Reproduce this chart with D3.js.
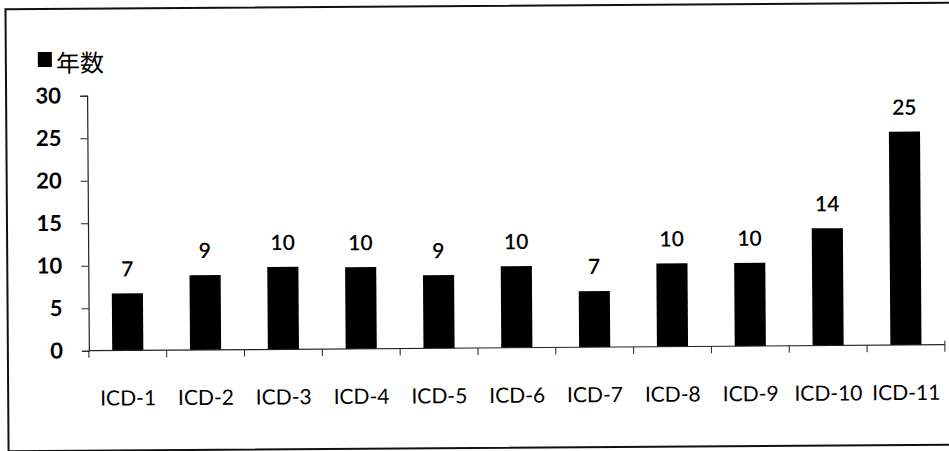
<!DOCTYPE html>
<html>
<head>
<meta charset="utf-8">
<script src="https://cdn.jsdelivr.net/npm/d3@7"></script>
<style>
  html, body { margin: 0; background: #fff; overflow: hidden; }
  svg { display: block; }
</style>
</head>
<body>
<div id="vis1" style="width:949px;height:451px"></div>
<script>
/*
Data
*/

const categories = ["ICD-1", "ICD-2", "ICD-3", "ICD-4", "ICD-5", "ICD-6",
                    "ICD-7", "ICD-8", "ICD-9", "ICD-10", "ICD-11"];
const years = [6.7, 8.8, 9.7, 9.6, 8.6, 9.6, 6.6, 9.8, 9.8, 13.8, 25.1];
const yTicks = [0, 5, 10, 15, 20, 25, 30];
const seriesName = "年数";

/*
Size constants
*/

const WIDTH = 949;
const HEIGHT = 451;
const margin = {top: 93, right: 5, bottom: 103, left: 88};
const width = WIDTH - margin.left - margin.right;
const height = 348 - margin.top;

const svg = d3.select("#vis1")
                .append("svg")
                .attr("width", WIDTH)
                .attr("height", HEIGHT);

// the scanned picture is a little tilted
const page = svg.append("g")
                .attr("transform", "rotate(-0.4, 475, 225)");

// frame of the chart area: left, top and bottom only, the right side runs off the picture
const frame = d3.path();
frame.moveTo(1000, 6);
frame.lineTo(7, 6);
frame.lineTo(7, 448);
frame.lineTo(1000, 448);
page.append("path")
    .attr("d", frame.toString())
    .attr("fill", "none")
    .attr("stroke", "#111")
    .attr("stroke-width", 2);

/*
Scales
*/

const x = d3.scaleBand()
            .domain(categories)
            .range([0, width])
            .paddingInner(0.6)
            .paddingOuter(0.3);

const y = d3.scaleLinear()
            .domain([0, 30])
            .range([height, 0]);

const chart = page.append("g")
                .attr("transform", `translate(${margin.left}, ${margin.top})`);

// legend
page.append("rect")
    .attr("x", 39)
    .attr("y", 49)
    .attr("width", 14)
    .attr("height", 15)
    .attr("fill", "#000");

page.append("text")
    .attr("x", 57)
    .attr("y", 69)
    .attr("font-family", "'Noto Sans CJK JP', sans-serif")
    .attr("font-size", 24)
    .text(seriesName);

// y axis
const yAxis = chart.append("g")
                .call(d3.axisLeft(y).tickValues(yTicks).tickSize(7).tickPadding(19));
yAxis.select(".domain").attr("stroke", "#222").attr("stroke-width", 1.2);
yAxis.selectAll(".tick line").attr("stroke", "#222");
yAxis.selectAll("text")
    .attr("font-family", "Lato, sans-serif")
    .attr("font-size", 22)
    .attr("font-weight", "bold")
    .attr("fill", "#000");

// bars
chart.selectAll("rect.bar")
    .data(years)
    .enter()
    .append("rect")
    .attr("class", "bar")
    .attr("x", (d, i) => x(categories[i]))
    .attr("y", d => y(d))
    .attr("width", x.bandwidth())
    .attr("height", d => y(0) - y(d))
    .attr("fill", "#000");

// value labels
chart.selectAll("text.value")
    .data(years)
    .enter()
    .append("text")
    .attr("class", "value")
    .attr("x", (d, i) => x(categories[i]) + x.bandwidth() / 2)
    .attr("y", d => y(d) - 17)
    .attr("text-anchor", "middle")
    .attr("font-family", "Lato, sans-serif")
    .attr("font-size", 21)
    .attr("font-weight", 600)
    .attr("fill", "#000")
    .text(d => d3.format(".0f")(d));

// x axis with ticks between the categories
const step = x.step();
const edges = d3.range(categories.length + 1).map(i => x(categories[0]) - x.paddingInner() * step / 2 + i * step);

const xAxis = chart.append("g")
                .attr("transform", `translate(0, ${height})`);

xAxis.append("line")
    .attr("x1", 0)
    .attr("x2", width)
    .attr("stroke", "#222")
    .attr("stroke-width", 1.2);

xAxis.selectAll("line.tick")
    .data(edges)
    .enter()
    .append("line")
    .attr("class", "tick")
    .attr("x1", d => d)
    .attr("x2", d => d)
    .attr("y1", (d, i) => i === edges.length - 1 ? -4 : 0)
    .attr("y2", 7)
    .attr("stroke", "#222");

xAxis.selectAll("text")
    .data(categories)
    .enter()
    .append("text")
    .attr("x", d => x(d) + x.bandwidth() / 2)
    .attr("y", 55)
    .attr("text-anchor", "middle")
    .attr("font-family", "Lato, sans-serif")
    .attr("font-size", 21)
    .attr("fill", "#000")
    .text(d => d);
</script>
</body>
</html>
